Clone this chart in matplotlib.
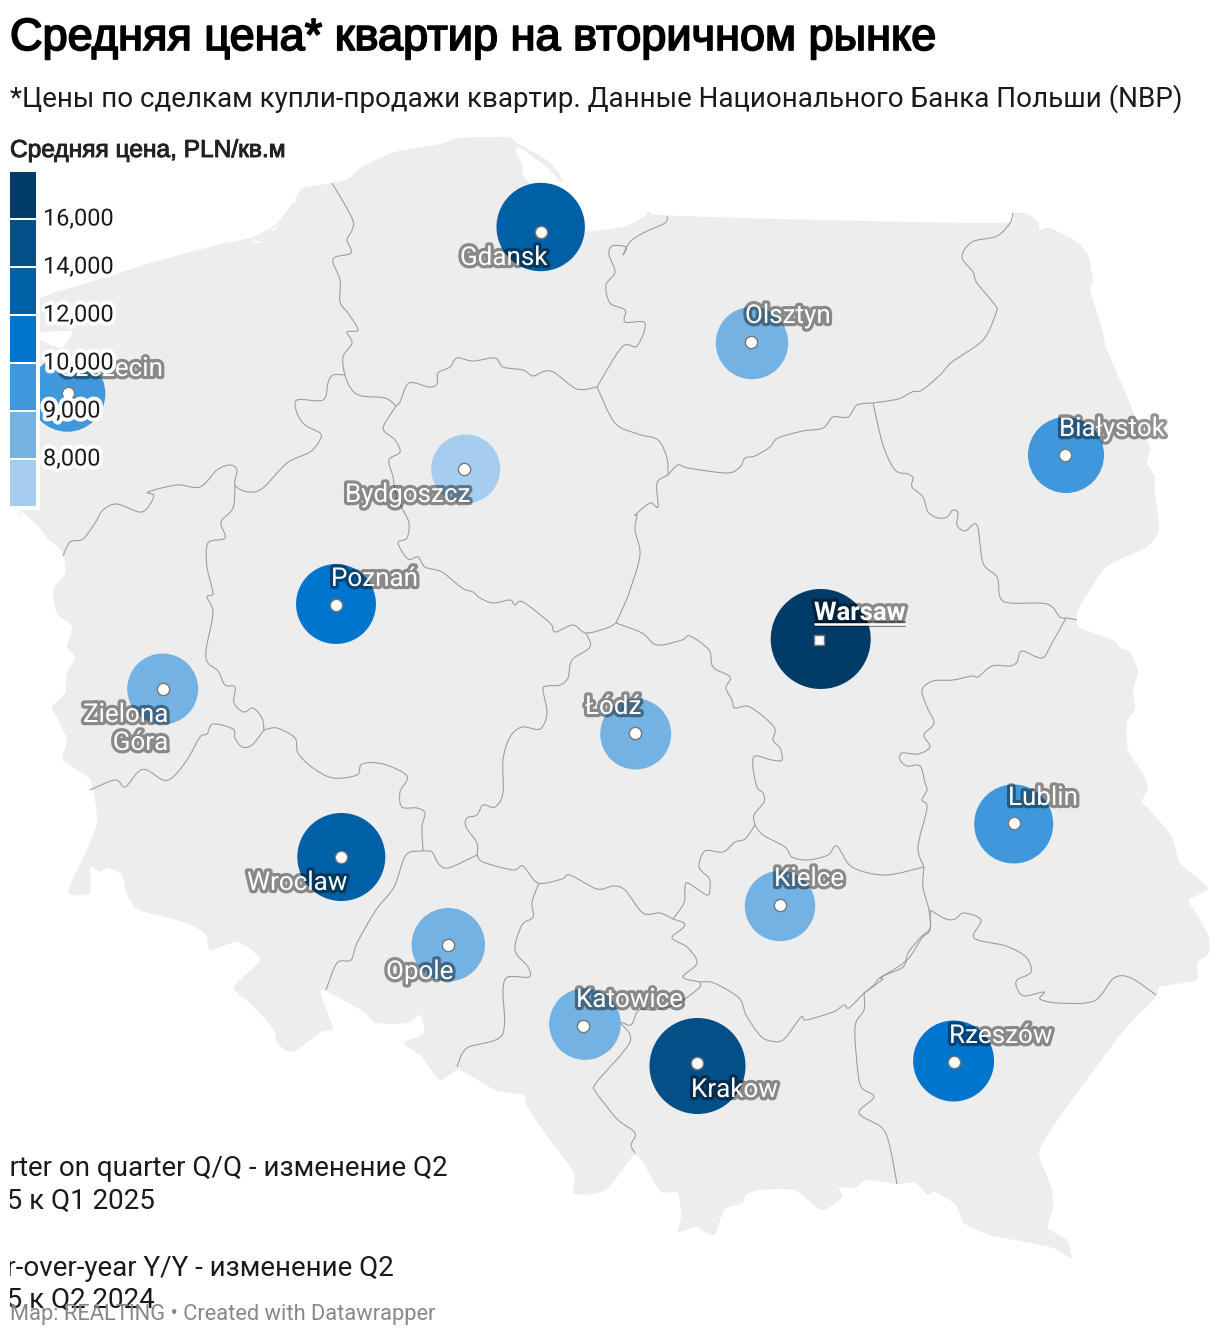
import numpy as np
import matplotlib
matplotlib.use("Agg")
import matplotlib.pyplot as plt
import matplotlib.patheffects as pe
from matplotlib.patches import Polygon, Circle, Rectangle, PathPatch
from matplotlib.path import Path

# ---- data -------------------------------------------------------------
cities = ["Warsaw", "Krakow", "Gdansk", "Wroclaw", "Poznań", "Rzeszów", "Lublin", "Białystok", "Szczecin",
          "Olsztyn", "Opole", "Katowice", "Zielona\nGóra", "Łódź", "Kielce", "Bydgoszcz"]
prices = [17000, 14500, 12600, 12500, 10200, 10500, 9950, 9350, 9350,
          8600, 8800, 8450, 8300, 8300, 8200, 7900]
bubble_x = [820.7, 697.5, 540.7, 341.3, 336, 953.6, 1013.7, 1066, 67.3, 752, 448.3, 585, 162.7, 635.7, 780, 465.7]
bubble_y = [639, 1066, 227, 857, 604, 1061, 824, 455, 393.7, 343, 944.7, 1024, 689, 734, 906, 469]
dot_x = [819, 696.8, 541, 340.7, 336, 954.3, 1014, 1065, 67.7, 750.7, 447.9, 582.7, 162.7, 635.3, 780, 464.3]
dot_y = [640, 1063.3, 232, 857, 605, 1061.7, 823, 455, 393.3, 341.7, 945.3, 1025.7, 689, 732.7, 905, 469]
label_x = [814, 691, 460, 247, 331, 949, 1008, 1059, 60, 745, 386, 576, 168, 585, 774, 345]
label_y = [620, 1097, 265, 890, 586, 1043, 805, 436, 376, 323, 979, 1007, 750, 714, 886, 502]

legend_breaks = [8000, 9000, 10000, 12000, 14000, 16000]
legend_labels = ["8,000", "9,000", "10,000", "12,000", "14,000", "16,000"]
legend_colors = ["#a5cdef", "#73b2e3", "#3f98dc", "#0075ce", "#0060a5", "#034f87", "#013c69"]
size_domain = [7900, 9950, 12500, 14500, 17000]
size_range = [34.5, 39.5, 44, 48, 50]

outline_x = [20, 20, 40, 50, 62, 68, 72, 40, 20, 20, 40, 53, 113, 150, 217, 253, 277, 293, 303, 333, 350, 362, 395, 440, 458, 507, 517, 547, 558, 563, 560, 548, 530, 518, 516, 522, 523, 530, 540, 570, 585, 623, 642, 650, 660, 780, 1000, 1012, 1028, 1038, 1040, 1050, 1077, 1088, 1093, 1090, 1093, 1103, 1107, 1130, 1137, 1150, 1147, 1155, 1155, 1159, 1147, 1123, 1103, 1078, 1077, 1080, 1113, 1120, 1130, 1138, 1133, 1135, 1127, 1128, 1142, 1148, 1142, 1150, 1172, 1180, 1208, 1189, 1196, 1208, 1209, 1197, 1196, 1160, 1156, 1124, 1074, 1053, 1039, 1051, 1053, 1048, 1067, 1071, 1053, 1031, 989, 964, 956, 935, 928, 915, 897, 867, 855, 839, 842, 822, 794, 760, 746, 742, 724, 714, 696, 678, 681, 678, 661, 649, 635, 606, 574, 574, 550, 527, 523, 495, 459, 440, 422, 404, 424, 420, 408, 376, 364, 321, 333, 321, 293, 277, 274, 254, 234, 260, 238, 210, 206, 187, 139, 127, 122, 108, 100, 90, 90, 68, 88, 97, 90, 63, 67, 57, 52, 65, 67, 75, 67, 72, 57, 53, 65, 63, 58, 47, 40, 20]
outline_y = [510, 345, 340, 345, 348, 340, 331, 332, 332, 305, 298, 293, 275, 263, 245, 237, 223, 202, 188, 183, 178, 167, 152, 144, 138, 137, 143, 160, 172, 182, 181, 168, 155, 147, 153, 163, 175, 183, 190, 232, 232, 227, 218, 211, 215, 219, 223, 213, 214, 222, 230, 228, 242, 255, 280, 287, 300, 332, 350, 403, 423, 447, 463, 477, 493, 530, 547, 558, 570, 610, 620, 628, 640, 648, 652, 672, 690, 708, 723, 750, 772, 787, 802, 810, 837, 863, 888, 900, 913, 935, 953, 963, 980, 987, 997, 1030, 1097, 1127, 1153, 1187, 1207, 1228, 1240, 1258, 1248, 1243, 1235, 1223, 1205, 1192, 1195, 1183, 1184, 1180, 1188, 1187, 1197, 1210, 1190, 1190, 1195, 1203, 1210, 1235, 1227, 1232, 1217, 1193, 1192, 1173, 1155, 1190, 1194, 1173, 1140, 1107, 1095, 1090, 1070, 1080, 1057, 1043, 1033, 1015, 1023, 1023, 1012, 990, 1028, 1032, 1052, 1043, 1030, 1007, 987, 960, 942, 950, 935, 923, 910, 895, 875, 868, 872, 867, 893, 892, 847, 820, 780, 760, 740, 718, 707, 693, 673, 657, 647, 627, 613, 590, 573, 555, 547, 538, 528, 510]

# Regional borders, as (x, y) map traces
border_xs = [
    [332, 352, 352, 347, 351, 333, 340, 340, 348, 358, 347, 352, 343, 345, 352, 362, 385, 396],
    [345, 333, 328, 323, 297, 297, 305, 320, 320, 310, 287, 263, 248, 235, 237, 230, 217, 200, 177, 148, 154, 142, 117, 103, 95, 83, 70, 63],
    [235, 233, 221, 225, 208, 207, 213, 207, 213, 206, 208, 218, 225, 235, 234, 244, 253, 262, 264],
    [90, 115, 125, 138, 147, 163, 173, 187, 200, 207, 213, 233, 235, 242, 252, 264],
    [264, 277, 295, 298, 313, 333, 357, 362, 383, 407, 400, 402, 417, 425, 422, 423],
    [423, 406, 394, 376, 357, 351, 337, 326],
    [423, 432, 438, 448, 477],
    [477, 477, 466, 467, 477, 483, 495, 503, 503, 510, 522, 540, 547, 543, 547, 560, 568, 572, 590, 586],
    [396, 384, 385, 395, 400, 389, 393, 396, 403, 409, 407, 398, 408, 418, 425, 442, 462, 473, 480, 493, 510, 515, 523, 550, 555, 573, 586, 607, 616],
    [616, 625, 630, 640, 635, 637, 635, 650, 658, 657, 668],
    [396, 400, 409, 429, 437, 438, 450, 457, 473, 495, 503, 523, 533, 545, 555, 577, 597],
    [597, 622, 637, 645, 625, 625, 610, 606, 615, 609, 612, 626, 623, 630, 643, 665, 667],
    [597, 615, 638, 658, 667, 668],
    [668, 678, 688, 727, 740, 745, 755, 770, 778, 803, 823, 833, 848, 857, 873],
    [873, 898, 912, 922, 940, 952, 983, 996, 995, 977, 973, 962, 972, 997, 1010, 1013],
    [873, 883, 895, 908, 913, 912, 923, 928, 938, 947, 953, 958, 957, 965, 977, 983, 997, 1000, 1010, 1047, 1060, 1067, 1077],
    [1066, 1052, 1042, 1022, 1017, 1010, 992, 978, 972, 953, 933, 922, 927, 934, 924, 930, 918, 902, 900, 907, 920, 925, 927, 922, 927, 918, 924],
    [924, 923, 929, 930, 922, 907, 882, 882, 864],
    [924, 885, 852, 837, 828, 808, 792, 785, 763, 755],
    [755, 754, 764, 763, 757, 753, 755, 772, 782, 780, 773, 774, 750, 735, 732, 726, 730, 713, 709, 690, 682, 657, 642, 616],
    [755, 745, 735, 723, 705, 699, 709, 710, 707, 688, 685, 684, 673],
    [477, 483, 513, 523, 538, 562, 570, 597, 613, 625, 643, 660, 673],
    [539, 532, 533, 522, 515, 528, 529, 508, 503, 502, 467, 457],
    [673, 684, 683, 672, 687, 697, 683, 700],
    [700, 714, 739, 746, 758, 767, 783, 801, 806, 833, 844, 849, 864],
    [864, 864, 855, 858, 862, 874, 859, 881, 889, 897],
    [864, 874, 881, 903, 908, 921, 930, 930],
    [930, 946, 955, 964, 981, 974, 1006, 1026, 1031, 1017, 1017, 1024, 1044, 1040, 1058, 1094, 1114, 1131, 1156],
    [700, 699, 678, 655, 639, 631, 621, 630, 596, 596, 604, 618, 635, 631, 635],
]
border_ys = [
    [183, 218, 230, 240, 253, 259, 280, 302, 313, 330, 332, 343, 357, 375, 390, 396, 398, 406],
    [375, 375, 383, 400, 400, 413, 425, 433, 440, 452, 463, 488, 492, 485, 470, 465, 470, 487, 485, 492, 496, 512, 504, 510, 523, 539, 542, 556],
    [485, 508, 522, 538, 543, 567, 593, 597, 613, 650, 663, 671, 685, 687, 703, 712, 708, 718, 730],
    [790, 780, 787, 772, 770, 780, 777, 760, 737, 734, 724, 729, 738, 747, 745, 730],
    [730, 728, 738, 753, 768, 778, 775, 764, 764, 776, 792, 807, 808, 813, 827, 851],
    [851, 855, 887, 910, 943, 960, 963, 990],
    [851, 852, 863, 868, 855],
    [855, 843, 827, 818, 815, 805, 807, 793, 760, 737, 727, 729, 713, 690, 686, 685, 678, 660, 647, 633],
    [406, 425, 432, 440, 452, 460, 477, 495, 510, 523, 538, 543, 559, 557, 567, 572, 588, 592, 598, 603, 600, 605, 602, 623, 632, 625, 633, 628, 623],
    [623, 603, 590, 555, 530, 515, 515, 503, 507, 483, 475],
    [406, 402, 383, 387, 384, 373, 367, 358, 361, 358, 367, 370, 376, 371, 373, 389, 387],
    [387, 347, 346, 323, 322, 310, 303, 285, 272, 255, 246, 247, 255, 242, 233, 223, 216],
    [387, 423, 434, 440, 458, 475],
    [475, 465, 468, 473, 467, 458, 456, 447, 438, 431, 428, 417, 417, 405, 403],
    [403, 399, 392, 390, 375, 362, 340, 313, 305, 283, 272, 257, 242, 236, 223, 213],
    [403, 445, 470, 474, 478, 487, 497, 512, 518, 517, 510, 513, 525, 531, 525, 563, 577, 597, 603, 604, 617, 618, 620],
    [618, 643, 658, 651, 662, 666, 666, 677, 676, 680, 681, 690, 707, 723, 735, 747, 754, 753, 760, 766, 766, 783, 790, 800, 808, 847, 867],
    [867, 887, 910, 930, 938, 960, 977, 980, 993],
    [867, 875, 867, 846, 855, 860, 857, 847, 835, 825],
    [825, 815, 802, 793, 787, 767, 756, 760, 760, 748, 740, 727, 707, 708, 700, 688, 677, 667, 650, 636, 640, 645, 633, 623],
    [825, 839, 842, 852, 851, 867, 878, 887, 895, 883, 888, 903, 919],
    [855, 862, 870, 866, 883, 879, 875, 889, 886, 890, 913, 913, 919],
    [883, 902, 917, 925, 950, 967, 977, 977, 990, 1035, 1048, 1067],
    [919, 923, 928, 938, 947, 963, 977, 982],
    [982, 983, 998, 1015, 1033, 1040, 1040, 1017, 1020, 1012, 1005, 1008, 993],
    [993, 1010, 1027, 1073, 1088, 1097, 1113, 1127, 1143, 1184],
    [993, 985, 977, 967, 953, 937, 928, 910],
    [910, 919, 919, 913, 920, 938, 946, 957, 972, 980, 988, 996, 992, 999, 1003, 1001, 978, 978, 995],
    [982, 988, 1003, 1010, 1010, 1025, 1023, 1042, 1083, 1092, 1103, 1120, 1133, 1145, 1153],
]
coast_lakes_x = [[250, 263, 258], [272, 279, 274], [292, 297, 295]]
coast_lakes_y = [[239, 242, 243], [229, 225, 231], [201, 199, 203]]

title = "Средняя цена* квартир на вторичном рынке"
subtitle = "*Цены по сделкам купли-продажи квартир. Данные Национального Банка Польши (NBP)"
legend_title = "Средняя цена, PLN/кв.м"
notes = ["Quarter on quarter Q/Q - изменение Q2", "2025 к Q1 2025", "Year-over-year Y/Y - изменение Q2", "2025 к Q2 2024"]
footer = "Map: REALTING • Created with Datawrapper"

# ---- figure -------------------------------------------------------------
W, H = 1220, 1336
fig = plt.figure(figsize=(W / 100, H / 100), dpi=100, facecolor="white")
ax = fig.add_axes([0, 0, 1, 1])
ax.set_xlim(0, W)
ax.set_ylim(H, 0)
ax.axis("off")
PX = 0.72
ROBOTO = "Roboto"
HELV = "Liberation Sans"


def smooth_path(xs, ys, closed=False, k=0.11):
    """Curved map trace through the traced vertices."""
    p = np.column_stack([xs, ys]).astype(float)
    n = len(p)
    if closed:
        prev_ = np.roll(p, 1, axis=0)
        next_ = np.roll(p, -1, axis=0)
    else:
        prev_ = np.vstack([p[0], p[:-1]])
        next_ = np.vstack([p[1:], p[-1]])
    tang = (next_ - prev_) * k
    verts = [p[0]]
    codes = [Path.MOVETO]
    for i in range(n if closed else n - 1):
        j = (i + 1) % n
        verts += [p[i] + tang[i], p[j] - tang[j], p[j]]
        codes += [Path.CURVE4] * 3
    return Path(verts, codes)


ax.add_patch(PathPatch(smooth_path(outline_x, outline_y, closed=True), fc="#ededed", ec="none", zorder=1))
for lx, ly in zip(coast_lakes_x, coast_lakes_y):
    ax.add_patch(Polygon(np.column_stack([lx, ly]), closed=True, fc="white", ec="none", zorder=1.1))
for bx, by in zip(border_xs, border_ys):
    ax.add_patch(PathPatch(smooth_path(bx, by, k=0.16), fc="none", ec="#9a9a9a", lw=0.75, zorder=2))

radii = np.interp(prices, size_domain, size_range)
bins = np.digitize(prices, legend_breaks)
for x, y, r, b in zip(bubble_x, bubble_y, radii, bins):
    ax.add_patch(Circle((x, y), r, fc=legend_colors[b], ec="none", zorder=3))

for name, x, y in zip(cities, dot_x, dot_y):
    is_cap = name == "Warsaw"
    ax.scatter([x], [y], s=78 if not is_cap else 52, marker="s" if is_cap else "o", fc="white",
               ec="#777777", lw=1.0, zorder=4)

halo = [pe.withStroke(linewidth=4.6, foreground="#000000", alpha=0.42)]
for name, x, y in zip(cities, label_x, label_y):
    bold = name == "Warsaw"
    if "\n" in name:
        a, b = name.split("\n")
        for s, yy in zip([a, b], [y - 28, y]):
            ax.text(x, yy, s, color="white", fontsize=26 * PX, family=ROBOTO, ha="right", va="baseline",
                    path_effects=halo, zorder=5)
        continue
    t = ax.text(x, y, name, color="white", fontsize=(25.7 if bold else 26) * PX, family=ROBOTO,
                fontweight="bold" if bold else "normal", ha="left", va="baseline",
                path_effects=halo, zorder=5)
    if bold:
        fig.canvas.draw()
        bb = t.get_window_extent().transformed(ax.transData.inverted())
        ax.plot([bb.x0, bb.x1], [y + 3.5, y + 3.5], color="white", lw=1.8, zorder=5,
                solid_capstyle="butt", path_effects=[pe.withStroke(linewidth=4.4, foreground="#000000", alpha=0.42)])

# legend
ax.add_patch(Rectangle((0, 165), 40, 345, fc="white", ec="none", zorder=6))
seg_top = 172
seg_h = 48
for i, c in enumerate(legend_colors[::-1]):
    ax.add_patch(Rectangle((10, seg_top + i * seg_h), 26, seg_h - 2, fc=c, ec="none", zorder=7))
for i, s in enumerate(legend_labels[::-1]):
    ax.text(43, seg_top + (i + 1) * seg_h - 3 + 8.5, s, fontsize=23.5 * PX, family=ROBOTO, color="#1a1a1a",
            ha="left", va="baseline", zorder=8,
            path_effects=[pe.withStroke(linewidth=5.6, foreground="white")])

# Synthetic-bold look of the headline font
ax.text(10, 157, legend_title, fontsize=24.5 * PX, family=HELV, color="#222222",
        ha="left", va="baseline", zorder=8,
        path_effects=[pe.withStroke(linewidth=0.7, foreground="#222222")])
ax.text(10, 50, title, fontsize=45.1 * PX, family=HELV, color="black", ha="left", va="baseline", zorder=8,
        path_effects=[pe.withStroke(linewidth=1.3, foreground="black")])
ax.text(10, 107, subtitle, fontsize=27.72 * PX, family=ROBOTO, color="#1a1a1a", ha="left", va="baseline", zorder=8)

clip = Rectangle((10, 1130), 600, 206, transform=ax.transData)
for s, y in zip(notes, [1176, 1209, 1276, 1308]):
    t = ax.text(-40, y, s, fontsize=27.8 * PX, family=ROBOTO, color="#1a1a1a", ha="left", va="baseline", zorder=8)
    t.set_clip_path(clip)
    t.set_clip_on(True)

ax.text(10, 1320, footer, fontsize=21.9 * PX, family=ROBOTO, color="#888888", ha="left", va="baseline", zorder=9)

fig.savefig("out.png", dpi=100)
